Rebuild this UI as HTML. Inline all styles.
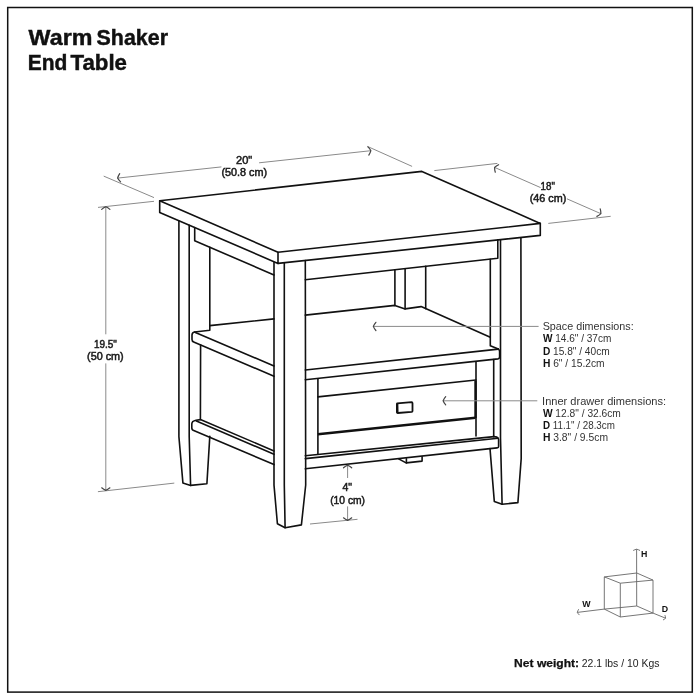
<!DOCTYPE html>
<html><head><meta charset="utf-8">
<style>
html,body{margin:0;padding:0;background:#fff;}
body{width:700px;height:700px;overflow:hidden;}
svg{display:block;will-change:transform;}
text{font-family:"Liberation Sans",sans-serif;}
.t{stroke:#111;stroke-width:1.6;fill:none;stroke-linejoin:round;stroke-linecap:round;}
.tk{stroke:#111;stroke-width:2.4;fill:none;}
.d{stroke:#8a8a8a;stroke-width:1;fill:none;}
.ah{stroke:#444;stroke-width:1.2;fill:none;stroke-linecap:round;stroke-linejoin:round;}
.dt{font-size:10.5px;fill:#1a1a1a;stroke:#1a1a1a;stroke-width:0.5px;}
.it{font-size:10.6px;fill:#333;}
.ib{font-weight:bold;fill:#111;}
</style></head><body>
<svg width="700" height="700" viewBox="0 0 700 700">
<rect x="7.7" y="7.5" width="684.6" height="684.6" fill="none" stroke="#111" stroke-width="1.5"/>
<g font-size="22" font-weight="bold" fill="#111" stroke="#111" stroke-width="0.45">
<text x="28.6" y="44.6" textLength="63.8" lengthAdjust="spacingAndGlyphs">Warm</text>
<text x="96.6" y="44.6" textLength="71.4" lengthAdjust="spacingAndGlyphs">Shaker</text>
<text x="27.8" y="69.6" textLength="39.6" lengthAdjust="spacingAndGlyphs">End</text>
<text x="70.5" y="69.6" textLength="56.5" lengthAdjust="spacingAndGlyphs">Table</text>
</g>


<g id="table">
<!-- top surface -->
<polygon class="t" points="159.7,200.7 421.9,171.4 540.3,223.4 278,252.3"/>
<polyline class="t" points="159.7,200.7 159.7,212.6 278,263.4 278,252.3"/>
<polyline class="t" points="278,263.4 540.3,235.4 540.3,223.4"/>
<!-- left leg -->
<polyline class="t" points="178.9,221 178.9,436.6 182.9,482.9 190.6,485.4 206.9,483.7 209.8,436.4"/>
<polyline class="t" points="189.2,225.3 189.2,436.6 190.6,485.4"/>
<!-- left apron -->
<polyline class="t" points="194.7,227.5 194.7,240.7 274,275"/>
<polyline class="t" points="209.8,247.3 209.8,330.3 194.6,332"/>
<!-- middle shelf left face -->
<path class="t" d="M194.6,332 Q192,332.6 192,335 L192,339.5 Q192,341.5 193.7,341.9 L274,376.3"/>
<polyline class="t" points="195.4,332.4 274,366"/>
<polyline class="t" points="209.8,325.6 274,318.9"/>
<line class="t" x1="200.6" y1="344.9" x2="200.4" y2="419.6"/>
<!-- bottom rail left -->
<path class="t" d="M274,450.9 L200.4,419.6 L196,420.2 Q191.8,421 191.8,424 L191.8,428 Q191.8,430 194.3,430.7 L274,464.6"/>
<polyline class="t" points="196.4,421.1 274,454.3"/>
<!-- front leg -->
<polyline class="t" points="274,262.5 274,485.1 277.4,523.7 285.1,527.7 301.4,524.9 305.7,485 305.3,260.5"/>
<polyline class="t" points="284.3,262.7 284.3,485 285.1,527.7"/>
<!-- front apron -->
<polyline class="t" points="305.3,279.7 497.8,258.3 497.8,239.9"/>
<!-- back leg -->
<line class="t" x1="394.9" y1="269.8" x2="394.9" y2="305.4"/>
<line class="t" x1="405.1" y1="268.7" x2="405.1" y2="308.9"/>
<line class="t" x1="425.7" y1="266.4" x2="425.7" y2="308.7"/>
<!-- shelf back edge -->
<polyline class="t" points="305.3,315.1 394.9,305.4 405.1,308.9 421.1,306.6 490.3,337.3"/>
<polyline class="t" points="490.3,259.2 490.3,345.7 498.3,349.1"/>
<!-- shelf front -->
<polyline class="t" points="305.3,370 498.3,349.1"/>
<path class="t" d="M498.3,349.1 Q499.6,349.8 499.6,351.5 L499.6,357 Q499.6,358.6 498,358.9 L305.3,379.7"/>
<!-- right leg -->
<polyline class="t" points="500.5,240 500.5,438 502.1,504.3"/>
<polyline class="t" points="520.9,237.7 521.2,458.6 517.9,502.6 502.1,504.3 494.3,501.4 490,448.6"/>
<line class="t" x1="493.7" y1="359.5" x2="493.7" y2="436.6"/>
<line class="t" x1="476" y1="361.7" x2="476" y2="436"/>
<!-- drawer -->
<line class="t" x1="317.9" y1="379.3" x2="317.9" y2="454.3"/>
<line class="t" x1="317.9" y1="396.9" x2="476" y2="380"/>
<line class="tk" x1="317.9" y1="434.3" x2="475.5" y2="417.7"/>
<line class="tk" x1="475.5" y1="381" x2="475.5" y2="418"/>
<path d="M397.2,403.4 L411.6,402.2 Q412.5,402.2 412.5,403.2 L412.5,411 Q412.5,411.7 411.7,411.8 L397.8,413 Q397,413.1 396.9,412.2 L396.9,404.3 Q396.9,403.5 397.2,403.4 Z" fill="none" stroke="#111" stroke-width="1.8" stroke-linejoin="round"/>
<line x1="397.6" y1="403.8" x2="397.8" y2="412.6" stroke="#111" stroke-width="1.5"/>
<!-- bottom rail front -->
<polyline class="t" points="305.3,455.7 494,436.6"/>
<polyline class="t" points="305.3,458.6 498,438.3"/>
<path class="t" d="M494,436.6 L497,437.1 Q498.6,437.9 498.6,439.5 L498.6,446.5 Q498.6,447.7 497,447.9 L305.3,468.8"/>
<!-- runner -->
<polyline class="t" points="398.6,458.9 406.1,462.9 422.1,461.1 422.1,456.8"/>
<line class="t" x1="406.4" y1="458.7" x2="406.4" y2="462.9"/>
</g>

<g id="dims">
<!-- 20 -->
<line class="d" x1="103.7" y1="176.1" x2="154" y2="197.6"/>
<line class="d" x1="117.6" y1="178.1" x2="221.4" y2="166.9"/>
<line class="d" x1="259.1" y1="162.8" x2="370.9" y2="150.7"/>
<line class="d" x1="367.4" y1="146.4" x2="412.1" y2="166.4"/>
<text class="dt" x="236.1" y="163.6" textLength="16.2" lengthAdjust="spacingAndGlyphs">20"</text>
<text class="dt" x="221.4" y="175.9" textLength="45.7" lengthAdjust="spacingAndGlyphs">(50.8 cm)</text>
<!-- 18 -->
<line class="d" x1="434.3" y1="170.6" x2="497.4" y2="163.4"/>
<line class="d" x1="494.6" y1="167.4" x2="540.6" y2="187.6"/>
<line class="d" x1="566.9" y1="198.8" x2="600.9" y2="213.7"/>
<line class="d" x1="548.3" y1="223.4" x2="610.7" y2="216.3"/>
<text class="dt" x="540.6" y="189.7" textLength="14.3" lengthAdjust="spacingAndGlyphs">18"</text>
<text class="dt" x="529.7" y="202" textLength="36.6" lengthAdjust="spacingAndGlyphs">(46 cm)</text>
<!-- 19.5 -->
<line class="d" x1="98" y1="207.4" x2="154" y2="201.3"/>
<line class="d" x1="105.8" y1="206.8" x2="105.8" y2="334.3"/>
<line class="d" x1="105.8" y1="363.4" x2="105.8" y2="490.4"/>
<line class="d" x1="97.9" y1="491.7" x2="174.3" y2="483.1"/>
<text class="dt" x="94" y="348" textLength="22.9" lengthAdjust="spacingAndGlyphs">19.5"</text>
<text class="dt" x="87.1" y="360" textLength="36.6" lengthAdjust="spacingAndGlyphs">(50 cm)</text>
<!-- 4 -->
<line class="d" x1="347.6" y1="465.2" x2="347.6" y2="478"/>
<line class="d" x1="347.6" y1="506.4" x2="347.6" y2="520.4"/>
<line class="d" x1="310" y1="524" x2="357.5" y2="519.3"/>
<text class="dt" x="342.5" y="491.4" textLength="9.6" lengthAdjust="spacingAndGlyphs">4"</text>
<text class="dt" x="330.2" y="503.8" textLength="34.8" lengthAdjust="spacingAndGlyphs">(10 cm)</text>
<!-- leaders -->
<line class="d" x1="373.3" y1="326.4" x2="538.6" y2="326.4"/>
<line class="d" x1="443.1" y1="400.8" x2="537.3" y2="400.8"/>
<path class="ah" d="M119.7,173.7 Q118.2,176.0 117.6,178.1 Q118.6,180.1 120.6,181.9"/>
<path class="ah" d="M368.8,155.1 Q370.3,152.8 370.9,150.7 Q369.9,148.7 367.9,146.9"/>
<path class="ah" d="M498.6,164.7 Q496.2,165.8 494.6,167.4 Q494.5,169.6 495.3,172.2"/>
<path class="ah" d="M596.9,216.4 Q599.3,215.3 600.9,213.7 Q601.0,211.5 600.2,208.9"/>
<path class="ah" d="M109.9,209.4 Q107.8,207.6 105.8,206.8 Q103.8,207.6 101.7,209.4"/>
<path class="ah" d="M101.7,487.8 Q103.8,489.6 105.8,490.4 Q107.8,489.6 109.9,487.8"/>
<path class="ah" d="M351.7,467.8 Q349.7,466.0 347.6,465.2 Q345.6,466.0 343.5,467.8"/>
<path class="ah" d="M343.5,517.8 Q345.6,519.6 347.6,520.4 Q349.7,519.6 351.7,517.8"/>
<path class="ah" d="M375.9,322.3 Q374.1,324.3 373.3,326.4 Q374.1,328.4 375.9,330.5"/>
<path class="ah" d="M445.7,396.7 Q443.9,398.8 443.1,400.8 Q443.9,402.9 445.7,404.9"/>
</g>

<g id="info">
<text class="it" x="542.7" y="330" textLength="91" lengthAdjust="spacingAndGlyphs">Space dimensions:</text>
<text class="it" x="542.9" y="342.4" textLength="68.5" lengthAdjust="spacingAndGlyphs"><tspan class="ib">W</tspan> 14.6" / 37cm</text>
<text class="it" x="542.9" y="354.8" textLength="66.8" lengthAdjust="spacingAndGlyphs"><tspan class="ib">D</tspan> 15.8" / 40cm</text>
<text class="it" x="542.9" y="366.8" textLength="61.7" lengthAdjust="spacingAndGlyphs"><tspan class="ib">H</tspan> 6" / 15.2cm</text>
<text class="it" x="542.1" y="405" textLength="124" lengthAdjust="spacingAndGlyphs">Inner drawer dimensions:</text>
<text class="it" x="542.9" y="416.5" textLength="78" lengthAdjust="spacingAndGlyphs"><tspan class="ib">W</tspan> 12.8" / 32.6cm</text>
<text class="it" x="542.9" y="428.7" textLength="72" lengthAdjust="spacingAndGlyphs"><tspan class="ib">D</tspan> 11.1" / 28.3cm</text>
<text class="it" x="542.9" y="440.9" textLength="65.1" lengthAdjust="spacingAndGlyphs"><tspan class="ib">H</tspan> 3.8" / 9.5cm</text>
<text x="514.1" y="667.2" font-size="11" font-weight="bold" fill="#111" stroke="#111" stroke-width="0.25" textLength="65" lengthAdjust="spacingAndGlyphs">Net weight:</text>
<text x="581.8" y="667.3" font-size="11" fill="#222" textLength="77.6" lengthAdjust="spacingAndGlyphs">22.1 lbs / 10 Kgs</text>
</g>

<g id="cube" stroke="#666" stroke-width="0.9" fill="none">
<polygon points="604.3,576.9 636.8,573 653,580.1 620.3,583.2"/>
<polygon points="604.3,609.1 636.8,606 653,613.1 620.3,617"/>
<line x1="604.3" y1="576.9" x2="604.3" y2="609.1"/>
<line x1="620.3" y1="583.2" x2="620.3" y2="617"/>
<line x1="653" y1="580.1" x2="653" y2="613.1"/>
<line x1="636.6" y1="549.2" x2="636.7" y2="606"/>
<line x1="604.3" y1="609.1" x2="577.3" y2="612.4"/>
<line x1="653" y1="613.1" x2="665.6" y2="618.2"/>
<path d="M640.0,550.5 Q638.3,549.6 636.6,549.2 Q634.9,549.6 633.2,550.5"/>
<path d="M578.7,609.2 Q577.7,610.8 577.3,612.4 Q578.1,613.8 579.5,615.1"/>
<path d="M663.0,620.0 Q664.6,619.2 665.6,618.2 Q665.5,616.8 664.9,615.1"/>
</g>
<text x="641" y="556.9" font-size="8.8" font-weight="bold" fill="#111">H</text>
<text x="582.2" y="606.8" font-size="8.8" font-weight="bold" fill="#111">W</text>
<text x="661.8" y="612.3" font-size="8.8" font-weight="bold" fill="#111">D</text>
</svg>
</body></html>
